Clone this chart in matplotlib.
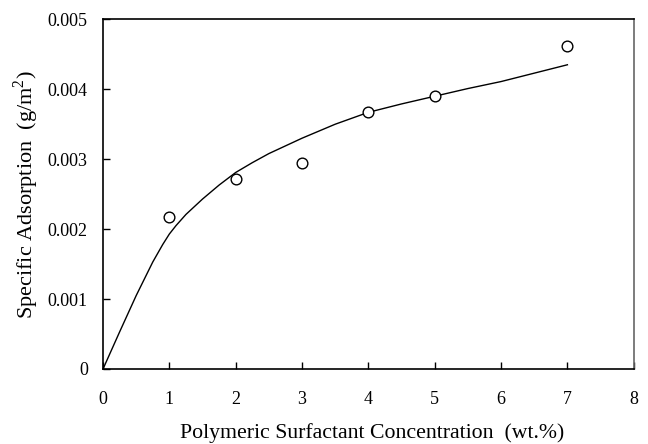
import matplotlib
matplotlib.use("Agg")
import matplotlib.pyplot as plt
from matplotlib.ticker import FixedLocator

plt.rcParams['font.family'] = ['Liberation Serif', 'DejaVu Serif']
plt.rcParams['mathtext.fontset'] = 'custom'
plt.rcParams['mathtext.rm'] = 'Liberation Serif'

# measured data points
conc = [1, 2, 3, 4, 5, 7]
adsorption = [0.00217, 0.00271, 0.00294, 0.00368, 0.00390, 0.00462]

# fitted curve
curve_x = [0, 0.25, 0.5, 0.75, 0.9, 1.0, 1.1, 1.25, 1.5, 1.75, 2.0, 2.25, 2.5, 3.0, 3.5, 4.0, 4.5, 5.0, 5.5, 6.0, 6.5, 7.0]
curve_y = [0, 0.00053, 0.00105, 0.00153, 0.00178, 0.00193, 0.00205, 0.00221, 0.00243, 0.00263, 0.00281, 0.00295, 0.00308,
           0.00330, 0.00350, 0.00367, 0.00379, 0.00390, 0.00401, 0.00411, 0.00423, 0.00435]

x_ticks = [0, 1, 2, 3, 4, 5, 6, 7, 8]
y_ticks = [0, 0.001, 0.002, 0.003, 0.004, 0.005]
y_tick_labels = ['0', '0.001', '0.002', '0.003', '0.004', '0.005']

fig = plt.figure(figsize=(6.48, 4.44), dpi=100)
ax = fig.add_axes([0.159, 0.169, 0.819, 0.7875])

ax.plot(curve_x, curve_y, color='black', linewidth=1.0)
ax.plot(conc, adsorption, linestyle='none', marker='o', markersize=7.7,
        markerfacecolor='white', markeredgecolor='black', markeredgewidth=1.0)

ax.set_xlim(0, 8)
ax.set_ylim(0, 0.005)
ax.xaxis.set_major_locator(FixedLocator(x_ticks))
ax.set_xticklabels([str(t) for t in x_ticks])
ax.yaxis.set_major_locator(FixedLocator(y_ticks))
ax.set_yticklabels(y_tick_labels)

ax.tick_params(axis='both', direction='in', length=5, width=1.0, labelsize=13)
ax.tick_params(axis='x', pad=16)
ax.tick_params(axis='y', pad=11)

for side in ['left', 'bottom', 'top']:
    ax.spines[side].set_linewidth(1.2)
    ax.spines[side].set_color('black')
ax.spines['right'].set_linewidth(1.2)
ax.spines['right'].set_color('#666666')

ax.set_xlabel('Polymeric Surfactant Concentration  (wt.%)', fontsize=15.7)
ax.xaxis.set_label_coords(0.507, -0.155, transform=ax.transAxes)
ax.xaxis.label.set_verticalalignment('top')
ax.set_ylabel('Specific Adsorption  (g/m$^2$)', fontsize=16, labelpad=5)

fig.savefig('out.png', dpi=100)
